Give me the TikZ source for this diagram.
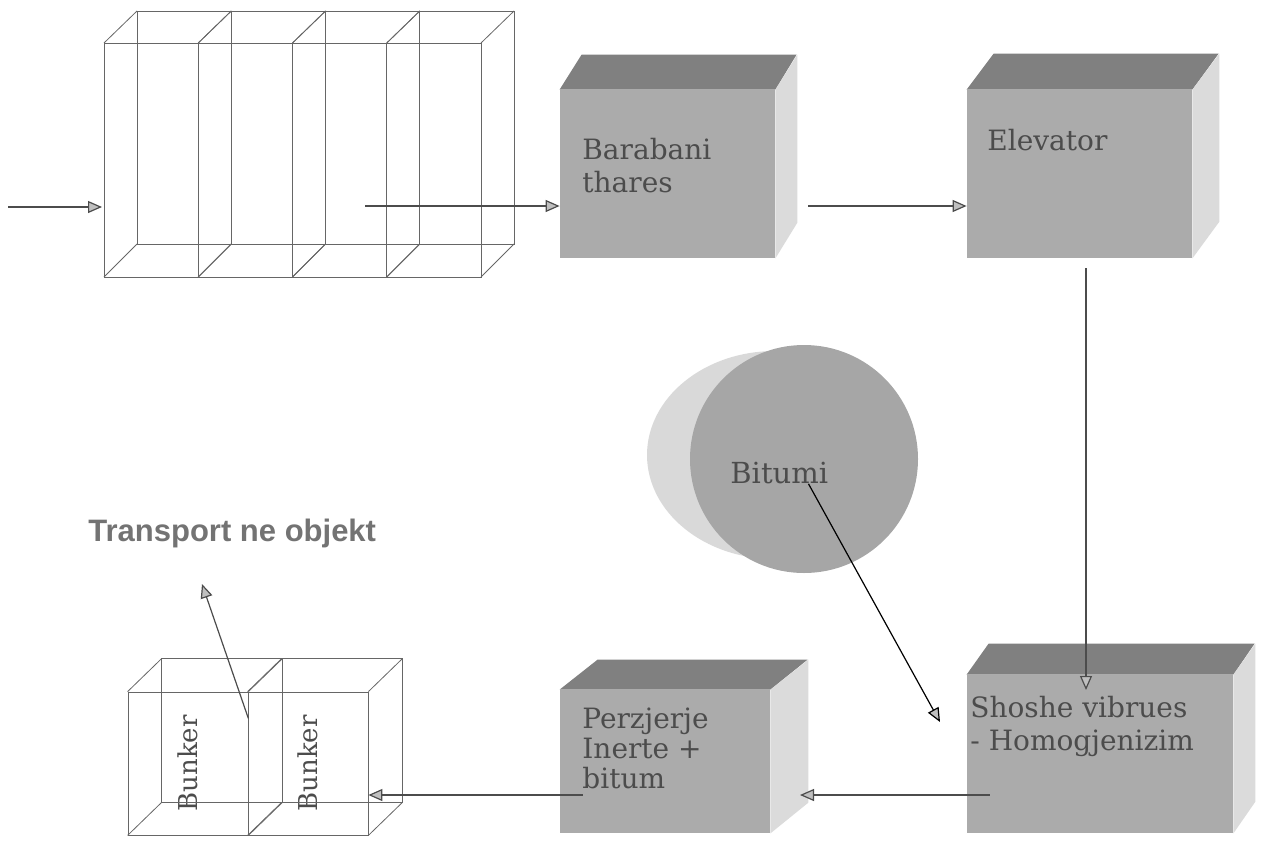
\documentclass[tikz,border=0pt]{standalone}
\usepackage{fontspec}
\setmainfont{DejaVu Serif}
\newfontfamily\plainsans{Liberation Sans}
\usetikzlibrary{arrows.meta,shapes.geometric}

\begin{document}
\begin{tikzpicture}[x=0.5pt,y=-0.5pt,
    wire/.style={draw=black!60, line width=0.4pt},
    front/.style={fill=black!33, inner sep=0pt},
    topface/.style={fill=black!50},
    sideface/.style={fill=black!14},
    boxtext/.style={text=black!70, align=left, anchor=base west, inner sep=0pt,
        font=\fontsize{14}{16.5}\selectfont},
    flow/.style={draw=black!70, line width=0.6pt,
        -{Triangle[length=7pt,width=6pt,fill=black!25]}}]
\useasboundingbox (0,0) rectangle (1262,846);

% feed bins
\foreach \i in {0,...,3} {
    \pgfmathsetmacro\xa{104+94.25*\i}
    \pgfmathsetmacro\xb{\xa+94.25}
    \draw[wire] (\xa+33,11) rectangle (\xb+33,244);
    \draw[wire] (\xa,43) rectangle (\xb,277);
    \draw[wire] (\xa,43) -- ++(33,-32) (\xb,43) -- ++(33,-32)
        (\xa,277) -- ++(33,-33) (\xb,277) -- ++(33,-33);
}

% drum
\node[front, minimum width=107.5pt, minimum height=84pt] (barabani) at (667.5,174) {};
\fill[topface] (barabani.north west) -- ++(22,-35) -- ++(215,0) -- (barabani.north east) -- cycle;
\fill[sideface] (barabani.north east) -- ++(22,-35) -- ++(0,168) -- (barabani.south east) -- cycle;
\node[boxtext] (barabanitxt) at (582,192) {Barabani\\thares};

% elevator
\node[front, minimum width=112.5pt, minimum height=84pt] (elevator) at (1079.5,174) {};
\fill[topface] (elevator.north west) -- ++(27,-36) -- ++(225,0) -- (elevator.north east) -- cycle;
\fill[sideface] (elevator.north east) -- ++(27,-36) -- ++(0,168) -- (elevator.south east) -- cycle;
\node[boxtext] (elevatortxt) at (987,150) {Elevator};

% screen
\node[front, minimum width=133pt, minimum height=79pt] (shoshe) at (1100,754) {};
\fill[topface] (shoshe.north west) -- ++(22,-31) -- ++(266,0) -- (shoshe.north east) -- cycle;
\fill[sideface] (shoshe.north east) -- ++(22,-31) -- ++(0,158) -- (shoshe.south east) -- cycle;
\node[boxtext] (shoshetxt) at (970,750) {Shoshe vibrues\\- Homogjenizim};

% mixer
\node[front, minimum width=105pt, minimum height=71.5pt] (perz) at (665,761.5) {};
\fill[topface] (perz.north west) -- ++(38,-30) -- ++(210,0) -- (perz.north east) -- cycle;
\fill[sideface] (perz.north east) -- ++(38,-30) -- ++(0,143) -- (perz.south east) -- cycle;
\node[boxtext, font=\fontsize{14}{15}\selectfont] (perztxt) at (582,788) {Perzjerje\\Inerte +\\bitum};

% bitumen
\fill[black!15] (775,455) ellipse [x radius=64pt, y radius=52pt];
\node[ellipse, fill=black!35, minimum width=114pt, minimum height=114pt] (bitumi) at (804,459) {};
\node[boxtext, font=\fontsize{14.5}{17}\selectfont] (bitumitxt) at (730,483) {Bitumi};

% bunkers
\node[wire, minimum width=60pt, minimum height=71.5pt, inner sep=0pt, text=black!70,
    font=\fontsize{13}{15}\selectfont] (bunker1) at (188,763.5) {\rotatebox{90}{Bunker}};
\node[wire, minimum width=60pt, minimum height=71.5pt, inner sep=0pt, text=black!70,
    font=\fontsize{13}{15}\selectfont] (bunker2) at (308,763.5) {\rotatebox{90}{Bunker}};
\draw[wire] ([shift={(34,-33)}]bunker1.north west) rectangle ([shift={(34,-33)}]bunker2.south east);
\draw[wire] ([shift={(34,-33)}]bunker1.north east) -- ([shift={(34,-33)}]bunker1.south east);
\foreach \a in {north west, north east, south west, south east} {
    \draw[wire] (bunker1.\a) -- ++(34,-33);
    \draw[wire] (bunker2.\a) -- ++(34,-33);
}
\node[font=\plainsans\bfseries\fontsize{15.5}{18}\selectfont, text=black!55,
    anchor=base west, inner sep=0pt] (transport) at (88,541) {Transport ne objekt};

% flows
\coordinate (start) at (8,207);
\coordinate (feedin) at (102,207);
\coordinate (feedout) at (365,206);
\coordinate (drop) at (1086,690);
\coordinate (mixin) at (800,795);
\coordinate (bitin) at (940,722);
\coordinate (out) at (202,584);
\draw[flow] (start) -- (feedin);
\draw[flow] (feedout) -- (barabani.west |- feedout);
\draw[flow] (barabani.east |- feedout) ++(33,0) -- (elevator.west |- feedout);
\draw[flow] (elevator.south -| drop) ++(0,10) -- (drop);
\draw[flow] (shoshe.west |- mixin) ++(23,0) -- (mixin);
\draw[flow] (perz.west |- mixin) ++(23,0) -- (bunker2.east |- mixin);
\draw[flow, draw=black] (bitumitxt.south east) ++(-20,0) -- (bitin);
\draw[flow] (bunker1.east) ++(0,-45) -- (out);
\end{tikzpicture}
\end{document}
